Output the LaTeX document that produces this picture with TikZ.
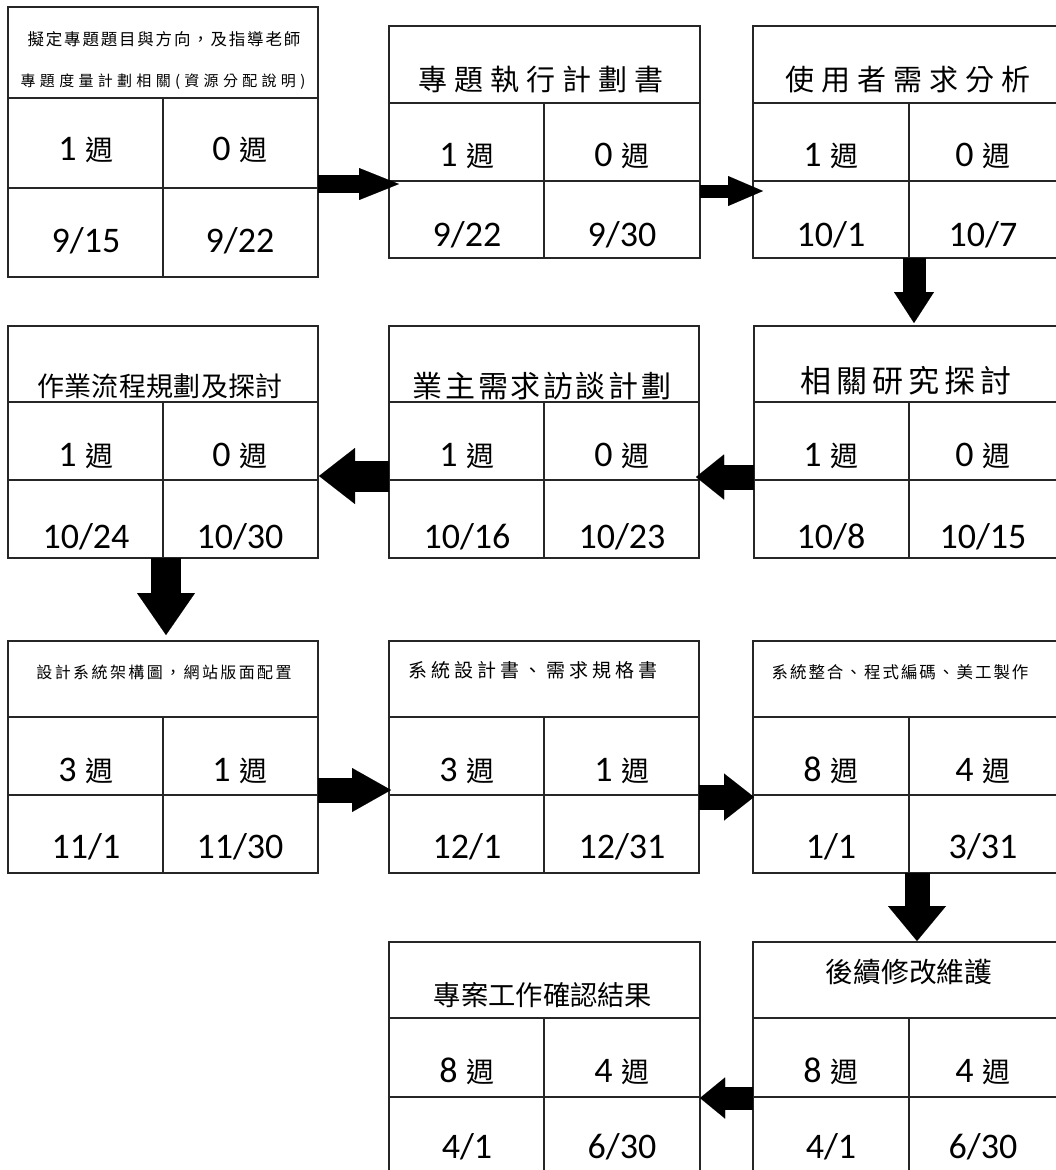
\documentclass[tikz,border=0pt]{standalone}
\usepackage{fontspec}
\setmainfont{Carlito}
\newfontfamily\cjk{Noto Sans CJK TC}
\usetikzlibrary{arrows.meta,calc}
\newlength\tspc
\def\spcaux#1{\ifx\relax#1\else\hspace{\tspc}#1\expandafter\spcaux\fi}
\def\spcfirst#1{#1\spcaux}
\newcommand\tx[3]{{\cjk\fontsize{#1}{#1}\selectfont\setlength\tspc{#2pt}\spcfirst#3\relax}}
\newcommand\wkcell[1]{#1\hspace{9pt}{\cjk\fontsize{28}{28}\selectfont 週}}
\tikzset{
  frame/.style={draw=black!85, line width=1.8pt, inner sep=0pt, outer sep=0pt},
  divline/.style={draw=black!85, line width=1.8pt},
  ttl/.style={inner sep=0pt},
  cell/.style={inner sep=0pt, anchor=base, font=\fontsize{36}{36}\selectfont},
  blk/.style n args={3}{line width=#1, draw=black,
     -{Triangle[length=#2, width=#3, line width=0.01pt]}}
}
% name, L, T, R, B, Tdiv, M, V
\newcommand\taskbox[8]{%
  \node[frame, anchor=north west, minimum width={#4pt-#2pt}, minimum height={#5pt-#3pt}] (#1) at (#2,#3) {};
  \draw[divline] (#2,#6) -- (#4,#6) (#2,#7) -- (#4,#7) (#8,#6) -- (#8,#5);
}
\begin{document}
\begin{tikzpicture}[x=1pt,y=-1pt]
\useasboundingbox (0,0) rectangle (1056,1170);
\clip (0,0) rectangle (1056,1170);
\fill[white] (0,0) rectangle (1056,1170);

% ---------- row 1
\taskbox{b1}{8}{7}{318}{277}{98}{188}{163}
\taskbox{b2}{389}{26}{700}{258}{103}{181}{544}
\taskbox{b3}{753}{26}{1064}{258}{103}{181}{909}

\node[ttl] (b1t1) at (164,39) {\tx{16.5}{1.8}{擬定專題題目與方向，及指導老師}};
\node[ttl] (b1t2) at (163,82) {\tx{15}{4.3}{專題度量計劃相關(資源分配說明)}};
\node[cell] (b1a) at (86,160) {\wkcell{1}};
\node[cell] (b1b) at (240,160) {\wkcell{0}};
\node[cell] (b1c) at (86,252) {9/15};
\node[cell] (b1d) at (240,252) {9/22};

\node[ttl] (b2t) at (541,80) {\tx{29}{7}{專題執行計劃書}};
\node[cell] (b2a) at (467,166) {\wkcell{1}};
\node[cell] (b2b) at (622,166) {\wkcell{0}};
\node[cell] (b2c) at (467,246) {9/22};
\node[cell] (b2d) at (622,246) {9/30};

\node[ttl] (b3t) at (908,80) {\tx{29}{7}{使用者需求分析}};
\node[cell] (b3a) at (831,166) {\wkcell{1}};
\node[cell] (b3b) at (983,166) {\wkcell{0}};
\node[cell] (b3c) at (831,246) {10/1};
\node[cell] (b3d) at (983,246) {10/7};

% ---------- row 2
\taskbox{c1}{8}{326}{318}{558}{402}{480}{163}
\taskbox{c2}{389}{326}{699}{558}{402}{480}{544}
\taskbox{c3}{754}{326}{1064}{558}{402}{480}{909}

\node[ttl] (c1t) at (160,386) {\tx{27}{0.3}{作業流程規劃及探討}};
\node[cell] (c1a) at (86,466) {\wkcell{1}};
\node[cell] (c1b) at (240,466) {\wkcell{0}};
\node[cell] (c1c) at (86,548) {10/24};
\node[cell] (c1d) at (240,548) {10/30};

\node[ttl] (c2t) at (542,386) {\tx{30}{2.6}{業主需求訪談計劃}};
\node[cell] (c2a) at (467,466) {\wkcell{1}};
\node[cell] (c2b) at (622,466) {\wkcell{0}};
\node[cell] (c2c) at (467,548) {10/16};
\node[cell] (c2d) at (622,548) {10/23};

\node[ttl] (c3t) at (906,381) {\tx{31}{5}{相關研究探討}};
\node[cell] (c3a) at (831,466) {\wkcell{1}};
\node[cell] (c3b) at (983,466) {\wkcell{0}};
\node[cell] (c3c) at (831,548) {10/8};
\node[cell] (c3d) at (983,548) {10/15};

% ---------- row 3
\taskbox{d1}{8}{641}{318}{873}{717}{795}{163}
\taskbox{d2}{389}{641}{699}{873}{717}{795}{544}
\taskbox{d3}{753}{641}{1064}{873}{717}{795}{909}

\node[ttl] (d1t) at (164,672) {\tx{16}{2.4}{設計系統架構圖，網站版面配置}};
\node[cell] (d1a) at (86,781) {\wkcell{3}};
\node[cell] (d1b) at (240,781) {\wkcell{1}};
\node[cell] (d1c) at (86,858) {11/1};
\node[cell] (d1d) at (240,858) {11/30};

\node[ttl] (d2t) at (533,670) {\tx{19}{4}{系統設計書、需求規格書}};
\node[cell] (d2a) at (467,781) {\wkcell{3}};
\node[cell] (d2b) at (622,781) {\wkcell{1}};
\node[cell] (d2c) at (467,858) {12/1};
\node[cell] (d2d) at (622,858) {12/31};

\node[ttl] (d3t) at (900,672) {\tx{16.5}{2}{系統整合、程式編碼、美工製作}};
\node[cell] (d3a) at (831,781) {\wkcell{8}};
\node[cell] (d3b) at (983,781) {\wkcell{4}};
\node[cell] (d3c) at (831,858) {1/1};
\node[cell] (d3d) at (983,858) {3/31};

% ---------- row 4
\taskbox{e1}{389}{942}{700}{1180}{1018}{1097}{544}
\taskbox{e2}{753}{942}{1064}{1180}{1018}{1097}{909}

\node[ttl] (e1t) at (543,995) {\tx{27.3}{0}{專案工作確認結果}};
\node[cell] (e1a) at (467,1082) {\wkcell{8}};
\node[cell] (e1b) at (622,1082) {\wkcell{4}};
\node[cell] (e1c) at (467,1158) {4/1};
\node[cell] (e1d) at (622,1158) {6/30};

\node[ttl] (e2t) at (909,972) {\tx{27.7}{0}{後續修改維護}};
\node[cell] (e2a) at (831,1082) {\wkcell{8}};
\node[cell] (e2b) at (983,1082) {\wkcell{4}};
\node[cell] (e2c) at (831,1158) {4/1};
\node[cell] (e2d) at (983,1158) {6/30};

% ---------- block arrows
\draw[blk={18pt}{40pt}{32pt}, shorten >=-10pt] (b1.east |- 0,184) -- (b2.west |- 0,184);
\draw[blk={13pt}{35pt}{30pt}, shorten >=-10pt] (b2.east |- 0,191) -- (b3.west |- 0,191);
\draw[blk={23pt}{31pt}{40pt}, shorten >=3pt] (b3.south -| 914,0) -- (c3.north -| 914,0);
\draw[blk={25pt}{28pt}{45pt}, shorten >=-3pt] (c3.west |- 0,477) -- (c2.east |- 0,477);
\draw[blk={31pt}{36pt}{56pt}, shorten >=1pt] (c2.west |- 0,476) -- (c1.east |- 0,476);
\draw[blk={30pt}{42pt}{58pt}, shorten >=6pt] (c1.south -| 166,0) -- (d1.north -| 166,0);
\draw[blk={25pt}{39pt}{44pt}, shorten >=-2pt] (d1.east |- 0,790) -- (d2.west |- 0,790);
\draw[blk={25pt}{30pt}{47pt}, shorten >=-1pt] (d2.east |- 0,797) -- (d3.west |- 0,797);
\draw[blk={25pt}{35pt}{58pt}, shorten >=1pt] (d3.south -| 917,0) -- (e2.north -| 917,0);
\draw[blk={23pt}{25pt}{41pt}] (e2.west |- 0,1098) -- (e1.east |- 0,1098);
\end{tikzpicture}
\end{document}
